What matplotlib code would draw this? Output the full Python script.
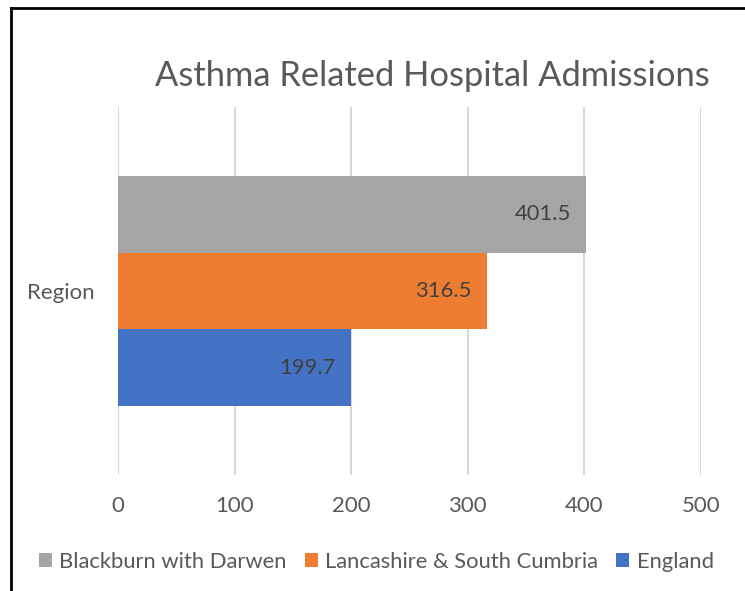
import matplotlib.pyplot as plt
from matplotlib.patches import Patch
from matplotlib.lines import Line2D

plt.rcParams['font.family'] = ['Lato', 'DejaVu Sans']

category = 'Region'
series = ['Blackburn with Darwen', 'Lancashire & South Cumbria', 'England']
values = [401.5, 316.5, 199.7]
colors = ['#a5a5a5', '#ed7d31', '#4472c4']
ticks = [0, 100, 200, 300, 400, 500]

fig = plt.figure(figsize=(7.45, 5.91), dpi=100)
ax = fig.add_axes([0.1584, 0.1963, 0.7825, 0.6227])

h = 0.2083
offsets = [h, 0, -h]
for name, v, c, off in zip(series, values, colors, offsets):
    ax.barh(off, v, height=h, color=c, label=name, zorder=2)
    ax.text(v - 13, off, f'{v:.1f}', ha='right', va='center',
            fontsize=15.8, color='#404040', zorder=3)

ax.set_xlim(0, 500)
ax.set_ylim(-0.5, 0.5)
ax.set_xticks(ticks)
ax.set_xticklabels([str(t) for t in ticks])
ax.set_yticks([0])
ax.set_yticklabels([category])
ax.tick_params(axis='both', length=0, labelsize=16, labelcolor='#595959')
ax.tick_params(axis='x', pad=15)
ax.tick_params(axis='y', pad=16.5)
ax.grid(axis='x', color='#d9d9d9', linewidth=1.5, zorder=0)
for s in ax.spines.values():
    s.set_visible(False)

fig.text(0.581, 0.872, 'Asthma Related Hospital Admissions', ha='center', va='center',
         fontsize=24.8, color='#595959')

handles = [Patch(facecolor=c, edgecolor='none') for c in colors]
fig.legend(handles, series, loc='center', bbox_to_anchor=(0.505, 0.049), ncol=3,
           frameon=False, fontsize=15.8, labelcolor='#595959',
           handlelength=0.6, handleheight=0.6, handletextpad=0.35, columnspacing=0.8)

# chart frame
fig.add_artist(Line2D([0.0148, 0.0148], [0, 0.987], color='black', linewidth=2))
fig.add_artist(Line2D([0.0148, 1], [0.987, 0.987], color='black', linewidth=2))

fig.savefig('out.png', dpi=100)
